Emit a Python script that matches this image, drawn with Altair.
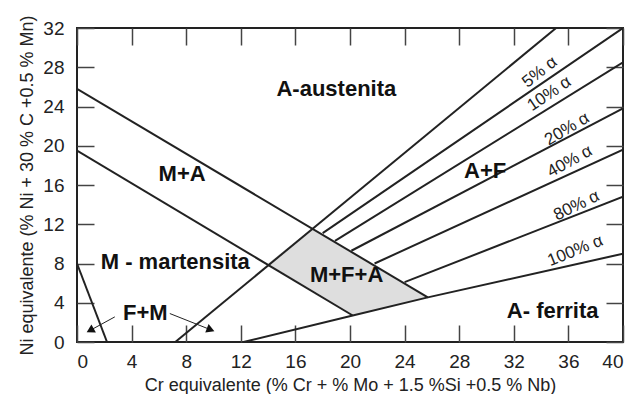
import altair as alt
import pandas as pd

# ---------------- data ----------------
line_names = ["d_upper", "d_lower", "fm", "L1", "L2", "L3", "L4", "L5", "L6", "L7"]
line_xs = [
    [0, 25.7],
    [0, 20.2],
    [0, 2.2],
    [7.2, 35.1],
    [18.0, 40],
    [18.9, 40],
    [20.1, 40],
    [21.8, 40],
    [24.0, 40],
    [12.2, 20.2, 25.7, 40],
]
line_ys = [
    [25.8, 4.55],
    [19.5, 2.7],
    [8.0, 0],
    [0, 32],
    [11.1, 32],
    [10.3, 28.5],
    [9.3, 23.8],
    [8.0, 19.6],
    [6.1, 14.8],
    [0, 2.7, 4.55, 9.0],
]

# shaded M+F+A region (upper and lower edges)
mfa_x = [14.0, 17.2, 20.2, 25.7]
mfa_upper = [8.0, 11.55, 9.1, 4.55]
mfa_lower = [8.0, 5.2, 2.7, 4.55]

region_labels = ["A-austenita", "M+A", "M - martensita", "M+F+A", "A+F", "A- ferrita", "F+M"]
region_x = [19.0, 7.7, 7.2, 19.75, 29.9, 34.85, 5.0]
region_y = [25.8, 17.1, 8.2, 6.85, 17.4, 3.2, 3.0]

alpha_labels = ["5% α", "10% α", "20% α", "40% α", "80% α", "100% α"]
alpha_x = [33.9, 34.6, 35.9, 36.1, 36.6, 36.5]
alpha_y = [27.5, 25.3, 21.7, 18.4, 13.9, 9.3]
alpha_angle = [322, 326, 329, 331, 334, 338]

arrow_names = ["left", "right"]
arrow_x0 = [2.77, 6.8]
arrow_y0 = [2.56, 2.9]
arrow_x1 = [1.05, 9.7]
arrow_y1 = [1.25, 1.3]
arrow_head_angle = [241, 111]

x_ticks = [0, 4, 8, 12, 16, 20, 24, 28, 32, 36, 40]
y_ticks = [0, 4, 8, 12, 16, 20, 24, 28, 32]
x_title = "Cr equivalente (% Cr +  % Mo + 1.5 %Si +0.5 % Nb)"
y_title = "Ni equivalente (% Ni + 30 % C +0.5 % Mn)"

# ---------------- tables ----------------
rows = []
for name, xs, ys in zip(line_names, line_xs, line_ys):
    for i, (xv, yv) in enumerate(zip(xs, ys)):
        rows.append({"line": name, "x": xv, "y": yv, "o": i})
lines_df = pd.DataFrame(rows)

mfa_df = pd.DataFrame({"x": mfa_x, "y": mfa_upper, "y2": mfa_lower})
region_df = pd.DataFrame({"label": region_labels, "x": region_x, "y": region_y})
alpha_df = pd.DataFrame({"label": alpha_labels, "x": alpha_x, "y": alpha_y, "ang": alpha_angle})

arows = []
for n, a, b, c, d in zip(arrow_names, arrow_x0, arrow_y0, arrow_x1, arrow_y1):
    arows.append({"arrow": n, "x": a, "y": b, "o": 0})
    arows.append({"arrow": n, "x": c, "y": d, "o": 1})
arrow_df = pd.DataFrame(arows)
head_df = pd.DataFrame({"x": arrow_x1, "y": arrow_y1, "ang": arrow_head_angle})

FONT = "Liberation Sans"
xs_ = alt.Scale(domain=[0, 40], nice=False, zero=False)
ys_ = alt.Scale(domain=[0, 32], nice=False, zero=False)


def X(axis=None):
    return alt.X("x:Q", scale=xs_, axis=axis)


def Y(axis=None):
    return alt.Y("y:Q", scale=ys_, axis=axis)


TICK = 17
common_axis = dict(
    domain=False, grid=False, tickSize=TICK, offset=-TICK, tickColor="#444",
    tickWidth=1.5, labelFont=FONT, labelFontSize=19, labelColor="#222",
    titleFont=FONT, titleFontSize=18, titleFontWeight="normal", titleColor="#222",
)

bottom_axis = alt.Axis(orient="bottom", values=x_ticks, title=x_title, labelPadding=10,
                       titlePadding=5, **common_axis)
left_axis = alt.Axis(orient="left", values=y_ticks, title=y_title, labelPadding=13,
                     titlePadding=6, **common_axis)
top_axis = alt.Axis(orient="top", values=x_ticks, labels=False, title=None, **common_axis)
right_axis = alt.Axis(orient="right", values=y_ticks, labels=False, title=None, **common_axis)

shade = alt.Chart(mfa_df).mark_area(color="#dedede", opacity=1).encode(
    x=X(bottom_axis), y=Y(left_axis), y2="y2:Q"
)

lines = alt.Chart(lines_df).mark_line(color="#222", strokeWidth=2, clip=True).encode(
    x=X(top_axis), y=Y(right_axis), detail="line:N", order="o:Q"
)

arrows = alt.Chart(arrow_df).mark_line(color="#222", strokeWidth=1).encode(
    x=X(), y=Y(), detail="arrow:N", order="o:Q"
)

heads = alt.Chart(head_df).mark_point(shape="triangle", filled=True, color="#111",
                                       size=85, opacity=1).encode(
    x=X(), y=Y(), angle=alt.Angle("ang:Q", scale=None)
)

regions = alt.Chart(region_df).mark_text(font=FONT, fontSize=22, fontWeight="bold",
                                          color="#111", align="center",
                                          baseline="middle").encode(
    x=X(), y=Y(), text="label:N"
)

alphas = alt.Chart(alpha_df).mark_text(font=FONT, fontSize=17, color="#222",
                                        align="center", baseline="middle").encode(
    x=X(), y=Y(), text="label:N", angle=alt.Angle("ang:Q", scale=None)
)

chart = alt.layer(shade, lines, arrows, heads, regions, alphas).resolve_axis(
    x="independent", y="independent"
).properties(
    width=546, height=314,
    autosize=alt.AutoSizeParams(type="none"),
    padding={"left": 69, "top": 20, "right": 10, "bottom": 52},
    background="white",
).configure_view(stroke="#222", strokeWidth=2)

chart.save("out.html", embed_options={"renderer": "svg", "actions": False})
